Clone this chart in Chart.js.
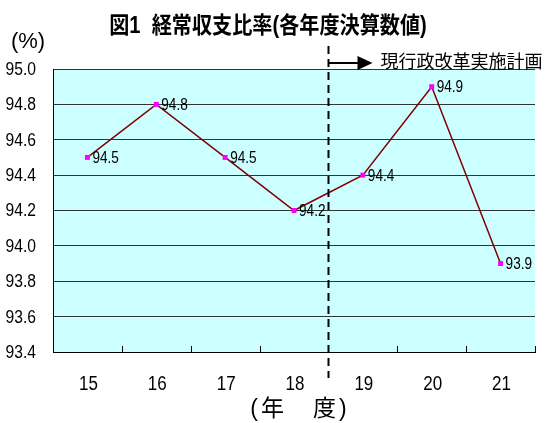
<!DOCTYPE html>
<html>
<head>
<meta charset="utf-8">
<script src="https://cdn.jsdelivr.net/npm/chart.js@4"></script>
<style>
  html, body { margin:0; padding:0; background:#fff; }
  #wrap { width:548px; height:423px; }
</style>
</head>
<body>
<div id="wrap"><canvas id="chart" width="548" height="423"></canvas></div>
<script>
// データ
const years = ['15', '16', '17', '18', '19', '20', '21'];
const ratio = [94.5, 94.8, 94.5, 94.2, 94.4, 94.9, 93.9];
const yMin = 93.4, yMax = 95.0, yStep = 0.2;
const planStartAfter = 3; // 18年度と19年度の間
const chartTitle = '図1  経常収支比率(各年度決算数値)';
const unitLabel = '(%)';
const xTitle = '(年　度)';
const planLabel = '現行政改革実施計画';

const FONT = "'Liberation Sans', 'Noto Sans CJK JP', sans-serif";

// 横に詰めた文字
function narrowText(ctx, text, px, py, sx){
  ctx.save();
  ctx.translate(px, py);
  ctx.scale(sx, 1);
  ctx.fillText(text, 0, 0);
  ctx.restore();
}

// 背景・注記・ラベル
const decor = {
  id: 'decor',
  beforeDraw(chart){
    const {ctx, chartArea:a} = chart;
    ctx.save();
    ctx.fillStyle = '#CCFFFF';
    ctx.fillRect(a.left, a.top, a.right - a.left, a.bottom - a.top);
    ctx.restore();
  },
  afterDraw(chart){
    const {ctx, chartArea:a, scales:{x, y}} = chart;
    ctx.save();
    ctx.fillStyle = '#000';

    // x軸の内向き目盛り
    ctx.strokeStyle = '#000'; ctx.lineWidth = 1;
    for(let i = 0; i <= years.length; i++){
      const px = Math.round(x.getPixelForValue(i - 0.5)) + 0.5;
      ctx.beginPath(); ctx.moveTo(px, a.bottom); ctx.lineTo(px, a.bottom - 6); ctx.stroke();
    }

    // y軸目盛りラベル
    ctx.font = '18px ' + FONT;
    ctx.textAlign = 'right'; ctx.textBaseline = 'middle';
    y.ticks.forEach(t => {
      narrowText(ctx, t.value.toFixed(1), 36, y.getPixelForValue(t.value) + 1, 0.87);
    });

    // x軸目盛りラベル
    ctx.font = '20px ' + FONT;
    ctx.textAlign = 'center';
    years.forEach((lab, i) => {
      narrowText(ctx, lab, x.getPixelForValue(i) + 1, 384, 0.85);
    });

    // データラベル
    ctx.font = '17px ' + FONT;
    ctx.textAlign = 'left';
    ratio.forEach((v, i) => {
      narrowText(ctx, v.toFixed(1), x.getPixelForValue(i) + 5, y.getPixelForValue(v) + 1, 0.8);
    });

    // 破線
    const dx = Math.round(x.getPixelForValue(planStartAfter + 0.5)) + 0.5;
    ctx.setLineDash([8, 5]); ctx.lineWidth = 2;
    ctx.beginPath(); ctx.moveTo(dx, 46); ctx.lineTo(dx, 378); ctx.stroke();
    ctx.setLineDash([]);

    // 矢印
    const ay = 63;
    ctx.lineWidth = 2;
    ctx.beginPath(); ctx.moveTo(dx, ay); ctx.lineTo(dx + 32, ay); ctx.stroke();
    ctx.beginPath(); ctx.moveTo(dx + 29, ay - 7); ctx.lineTo(dx + 44, ay); ctx.lineTo(dx + 29, ay + 7); ctx.closePath(); ctx.fill();
    ctx.font = '18px ' + FONT;
    ctx.fillText(planLabel, dx + 52, ay);

    // タイトル
    ctx.textAlign = 'center';
    ctx.font = 'bold 23px ' + FONT;
    narrowText(ctx, chartTitle, 268, 27, 0.875);

    // 単位
    ctx.font = '22px ' + FONT;
    ctx.fillText(unitLabel, 28, 42);

    // x軸タイトル
    ctx.font = '23px ' + FONT;
    ctx.letterSpacing = '3px';
    ctx.fillText(xTitle, 300, 410);
    ctx.letterSpacing = '0px';
    ctx.restore();
  }
};

new Chart(document.getElementById('chart'), {
  type: 'line',
  data: {
    labels: years,
    datasets: [{
      data: ratio,
      borderColor: '#800000',
      borderWidth: 1.5,
      tension: 0,
      pointStyle: 'rect',
      pointRadius: 3.5,
      pointBorderWidth: 0,
      pointBackgroundColor: '#FF00FF'
    }]
  },
  options: {
    responsive: false,
    animation: false,
    layout: { padding: { top: 69, right: 13, left: 0, bottom: 0 } },
    plugins: { legend: { display: false }, tooltip: { enabled: false } },
    scales: {
      x: {
        offset: true,
        afterFit: s => { s.height = 71; },
        grid: { display: false },
        border: { display: true, color: '#000', width: 1 },
        ticks: { display: false }
      },
      y: {
        min: yMin, max: yMax,
        afterFit: s => { s.width = 53; },
        grid: { color: '#333', drawTicks: false },
        border: { display: true, color: '#000', width: 1 },
        ticks: { stepSize: yStep, display: false }
      }
    }
  },
  plugins: [decor]
});
</script>
</body>
</html>
